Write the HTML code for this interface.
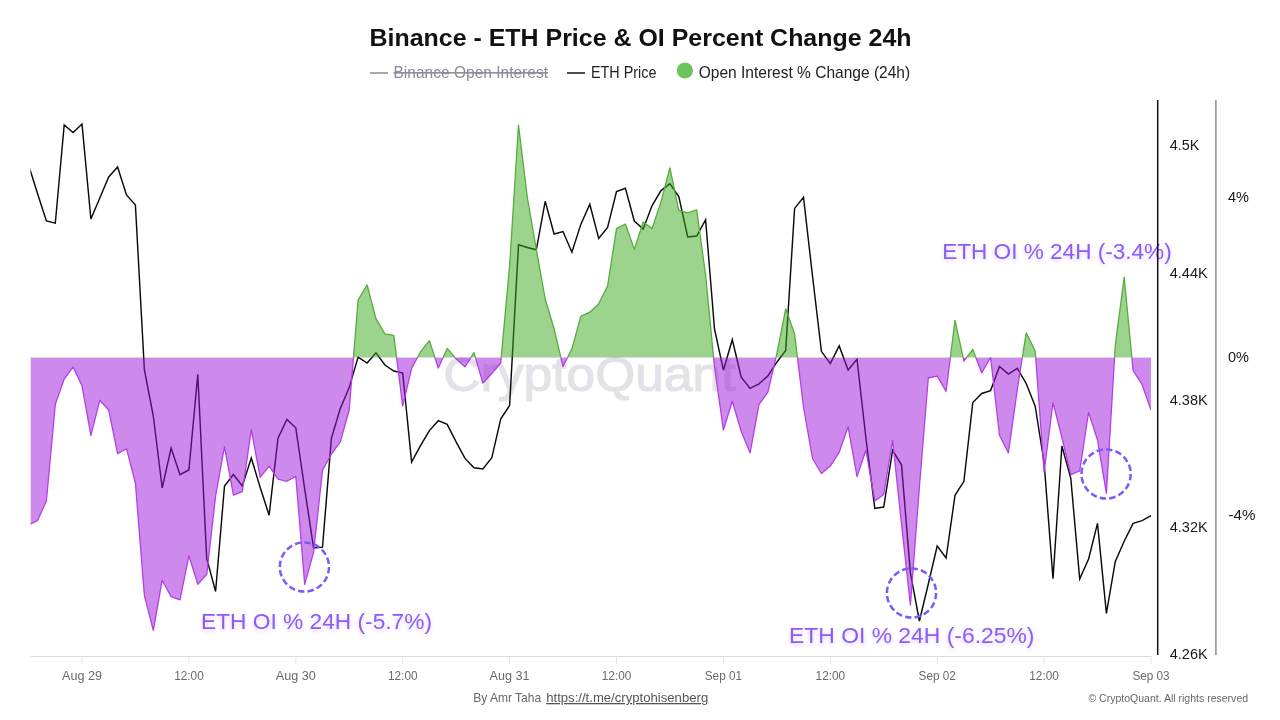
<!DOCTYPE html>
<html><head><meta charset="utf-8"><title>Binance - ETH Price &amp; OI Percent Change 24h</title>
<style>
html,body{margin:0;padding:0;background:#fff;}
body{width:1280px;height:720px;overflow:hidden;font-family:"Liberation Sans",sans-serif;}
svg{display:block;}
text{font-family:"Liberation Sans",sans-serif;}
.title{font-size:24px;font-weight:bold;fill:#111;}
.lg{font-size:15.7px;fill:#222;}
.lgoff{font-size:15.7px;fill:#8b8b98;text-decoration:line-through;}
.xl{font-size:12.6px;fill:#6a6a6a;}
.yl{font-size:15.2px;fill:#1a1a1a;}
.ann{font-size:21.8px;fill:#8b5cf6;}
.ft{font-size:13px;fill:#666;}
.cr{font-size:10.6px;fill:#666;}
.wm{font-size:49px;fill:#e2e2e8;stroke:#e2e2e8;stroke-width:1.2px;}
</style></head>
<body>
<svg width="1280" height="720" viewBox="0 0 1280 720">
<defs>
<clipPath id="cpos"><rect x="30.7" y="90" width="1120.3" height="267.5"/></clipPath>
<clipPath id="cneg"><rect x="30.7" y="357.5" width="1120.3" height="300"/></clipPath>
<clipPath id="call"><rect x="30.5" y="90" width="1121" height="570"/></clipPath>
<filter id="glow" x="-10%" y="-40%" width="120%" height="180%"><feGaussianBlur in="SourceGraphic" stdDeviation="2.2"/></filter>
</defs>
<rect width="1280" height="720" fill="#fff"/>
<text x="369.5" y="45.5" class="title" textLength="542" lengthAdjust="spacingAndGlyphs">Binance - ETH Price &amp; OI Percent Change 24h</text>
<!-- legend -->
<line x1="370" y1="73" x2="388" y2="73" stroke="#8b8b98" stroke-width="1.5"/>
<text x="393.5" y="77.5" class="lgoff" textLength="154.5" lengthAdjust="spacingAndGlyphs">Binance Open Interest</text>
<line x1="567" y1="73" x2="585" y2="73" stroke="#111" stroke-width="1.5"/>
<text x="591" y="77.5" class="lg" textLength="65.5" lengthAdjust="spacingAndGlyphs">ETH Price</text>
<circle cx="684.9" cy="70.5" r="8.1" fill="#6cc55c"/>
<text x="698.7" y="77.5" class="lg" textLength="211.5" lengthAdjust="spacingAndGlyphs">Open Interest % Change (24h)</text>
<!-- watermark -->
<text x="589.5" y="390.5" text-anchor="middle" class="wm" textLength="292" lengthAdjust="spacingAndGlyphs">CryptoQuant</text>
<!-- price -->
<g clip-path="url(#call)">
<polyline points="28.6,165.0 37.5,193.5 46.4,221.0 55.3,223.2 64.2,125.0 73.1,132.5 82.0,124.0 90.9,219.0 99.8,198.0 108.7,177.0 117.6,167.0 126.5,195.0 135.4,205.0 144.4,370.0 153.3,416.0 162.2,488.0 171.1,448.0 180.0,474.7 188.9,470.0 197.8,374.4 206.7,558.5 215.6,591.5 224.5,486.0 233.4,474.5 242.3,486.0 251.3,458.0 260.2,487.5 269.1,515.2 278.0,438.1 286.9,419.4 295.8,427.8 304.7,489.0 313.6,548.0 322.5,547.2 331.4,438.1 340.3,408.5 349.2,387.5 358.1,357.1 367.1,363.0 376.0,352.8 384.9,365.0 393.8,371.0 402.7,373.0 411.6,462.0 420.5,445.6 429.4,430.6 438.3,420.7 447.2,424.4 456.1,441.9 465.0,458.4 474.0,467.8 482.9,469.0 491.8,457.8 500.7,419.0 509.6,405.5 518.5,244.7 527.4,247.5 536.3,249.8 545.2,201.3 554.1,234.0 563.0,231.5 571.9,252.2 580.8,224.4 589.8,204.3 598.7,238.4 607.6,227.5 616.5,191.6 625.4,188.2 634.3,221.0 643.2,229.0 652.1,205.6 661.0,190.6 669.9,183.7 678.8,196.6 687.7,237.0 696.7,236.0 705.6,219.7 714.5,329.0 723.4,370.2 732.3,339.7 741.2,377.2 750.1,388.4 759.0,383.8 767.9,375.9 776.8,362.2 785.7,350.4 794.6,208.4 803.5,197.2 812.5,276.0 821.4,351.3 830.3,363.6 839.2,345.9 848.1,370.0 857.0,359.2 865.9,438.0 874.8,508.4 883.7,507.0 892.6,450.3 901.5,464.8 910.4,573.0 919.4,621.0 928.3,584.0 937.2,546.0 946.1,558.0 955.0,495.3 963.9,481.3 972.8,402.5 981.7,393.5 990.6,390.6 999.5,366.4 1008.4,374.0 1017.3,368.3 1026.2,383.5 1035.2,406.2 1044.1,462.5 1053.0,578.8 1061.9,446.0 1070.8,478.4 1079.7,578.8 1088.6,559.0 1097.5,523.4 1106.4,613.4 1115.3,561.5 1124.2,541.2 1133.1,523.4 1142.1,520.6 1151.0,515.6" fill="none" stroke="#0b0b0b" stroke-width="1.45" stroke-linejoin="miter"/>
</g>
<!-- area -->
<g clip-path="url(#cpos)">
<polygon points="28.6,357.5 28.6,525.0 37.5,520.6 46.4,501.0 55.3,404.4 64.2,379.0 73.1,366.9 82.0,385.6 90.9,435.3 99.8,400.2 108.7,410.0 117.6,453.7 126.5,448.7 135.4,483.0 144.4,595.6 153.3,630.3 162.2,580.2 171.1,596.6 180.0,599.8 188.9,555.7 197.8,584.4 206.7,574.5 215.6,496.0 224.5,446.6 233.4,495.2 242.3,491.6 251.3,429.7 260.2,477.3 269.1,466.1 278.0,479.2 286.9,481.3 295.8,476.4 304.7,584.4 313.6,552.4 322.5,470.3 331.4,454.0 340.3,441.9 349.2,410.0 358.1,300.0 367.1,285.0 376.0,318.8 384.9,333.8 393.8,335.3 402.7,406.2 411.6,368.4 420.5,351.9 429.4,340.6 438.3,368.0 447.2,348.5 456.1,358.8 465.0,366.8 474.0,352.6 482.9,383.0 491.8,373.5 500.7,363.0 509.6,266.0 518.5,125.0 527.4,198.0 536.3,249.4 545.2,299.0 554.1,329.0 563.0,366.5 571.9,348.8 580.8,316.3 589.8,312.2 598.7,303.8 607.6,286.0 616.5,228.6 625.4,224.0 634.3,249.4 643.2,222.0 652.1,228.5 661.0,201.9 669.9,167.8 678.8,210.3 687.7,212.8 696.7,209.8 705.6,275.0 714.5,367.0 723.4,430.0 732.3,401.2 741.2,431.2 750.1,453.0 759.0,404.4 767.9,392.2 776.8,353.8 785.7,308.8 794.6,334.0 803.5,407.0 812.5,458.5 821.4,473.5 830.3,466.1 839.2,452.3 848.1,426.9 857.0,476.5 865.9,450.3 874.8,501.0 883.7,494.4 892.6,440.5 901.5,524.0 910.4,605.0 919.4,487.0 928.3,378.0 937.2,376.2 946.1,391.3 955.0,320.4 963.9,361.0 972.8,349.5 981.7,372.9 990.6,357.5 999.5,435.3 1008.4,453.0 1017.3,389.4 1026.2,332.8 1035.2,351.0 1044.1,471.9 1053.0,402.5 1061.9,437.5 1070.8,474.7 1079.7,471.0 1088.6,412.2 1097.5,440.0 1106.4,493.4 1115.3,345.0 1124.2,277.2 1133.1,370.6 1142.1,384.7 1151.0,410.0 1151.0,357.5" fill="#39a71b" fill-opacity="0.5"/>
<polyline points="28.6,525.0 37.5,520.6 46.4,501.0 55.3,404.4 64.2,379.0 73.1,366.9 82.0,385.6 90.9,435.3 99.8,400.2 108.7,410.0 117.6,453.7 126.5,448.7 135.4,483.0 144.4,595.6 153.3,630.3 162.2,580.2 171.1,596.6 180.0,599.8 188.9,555.7 197.8,584.4 206.7,574.5 215.6,496.0 224.5,446.6 233.4,495.2 242.3,491.6 251.3,429.7 260.2,477.3 269.1,466.1 278.0,479.2 286.9,481.3 295.8,476.4 304.7,584.4 313.6,552.4 322.5,470.3 331.4,454.0 340.3,441.9 349.2,410.0 358.1,300.0 367.1,285.0 376.0,318.8 384.9,333.8 393.8,335.3 402.7,406.2 411.6,368.4 420.5,351.9 429.4,340.6 438.3,368.0 447.2,348.5 456.1,358.8 465.0,366.8 474.0,352.6 482.9,383.0 491.8,373.5 500.7,363.0 509.6,266.0 518.5,125.0 527.4,198.0 536.3,249.4 545.2,299.0 554.1,329.0 563.0,366.5 571.9,348.8 580.8,316.3 589.8,312.2 598.7,303.8 607.6,286.0 616.5,228.6 625.4,224.0 634.3,249.4 643.2,222.0 652.1,228.5 661.0,201.9 669.9,167.8 678.8,210.3 687.7,212.8 696.7,209.8 705.6,275.0 714.5,367.0 723.4,430.0 732.3,401.2 741.2,431.2 750.1,453.0 759.0,404.4 767.9,392.2 776.8,353.8 785.7,308.8 794.6,334.0 803.5,407.0 812.5,458.5 821.4,473.5 830.3,466.1 839.2,452.3 848.1,426.9 857.0,476.5 865.9,450.3 874.8,501.0 883.7,494.4 892.6,440.5 901.5,524.0 910.4,605.0 919.4,487.0 928.3,378.0 937.2,376.2 946.1,391.3 955.0,320.4 963.9,361.0 972.8,349.5 981.7,372.9 990.6,357.5 999.5,435.3 1008.4,453.0 1017.3,389.4 1026.2,332.8 1035.2,351.0 1044.1,471.9 1053.0,402.5 1061.9,437.5 1070.8,474.7 1079.7,471.0 1088.6,412.2 1097.5,440.0 1106.4,493.4 1115.3,345.0 1124.2,277.2 1133.1,370.6 1142.1,384.7 1151.0,410.0" fill="none" stroke="#55ad3e" stroke-width="1.3" stroke-linejoin="round"/>
</g>
<g clip-path="url(#cneg)">
<polygon points="28.6,357.5 28.6,525.0 37.5,520.6 46.4,501.0 55.3,404.4 64.2,379.0 73.1,366.9 82.0,385.6 90.9,435.3 99.8,400.2 108.7,410.0 117.6,453.7 126.5,448.7 135.4,483.0 144.4,595.6 153.3,630.3 162.2,580.2 171.1,596.6 180.0,599.8 188.9,555.7 197.8,584.4 206.7,574.5 215.6,496.0 224.5,446.6 233.4,495.2 242.3,491.6 251.3,429.7 260.2,477.3 269.1,466.1 278.0,479.2 286.9,481.3 295.8,476.4 304.7,584.4 313.6,552.4 322.5,470.3 331.4,454.0 340.3,441.9 349.2,410.0 358.1,300.0 367.1,285.0 376.0,318.8 384.9,333.8 393.8,335.3 402.7,406.2 411.6,368.4 420.5,351.9 429.4,340.6 438.3,368.0 447.2,348.5 456.1,358.8 465.0,366.8 474.0,352.6 482.9,383.0 491.8,373.5 500.7,363.0 509.6,266.0 518.5,125.0 527.4,198.0 536.3,249.4 545.2,299.0 554.1,329.0 563.0,366.5 571.9,348.8 580.8,316.3 589.8,312.2 598.7,303.8 607.6,286.0 616.5,228.6 625.4,224.0 634.3,249.4 643.2,222.0 652.1,228.5 661.0,201.9 669.9,167.8 678.8,210.3 687.7,212.8 696.7,209.8 705.6,275.0 714.5,367.0 723.4,430.0 732.3,401.2 741.2,431.2 750.1,453.0 759.0,404.4 767.9,392.2 776.8,353.8 785.7,308.8 794.6,334.0 803.5,407.0 812.5,458.5 821.4,473.5 830.3,466.1 839.2,452.3 848.1,426.9 857.0,476.5 865.9,450.3 874.8,501.0 883.7,494.4 892.6,440.5 901.5,524.0 910.4,605.0 919.4,487.0 928.3,378.0 937.2,376.2 946.1,391.3 955.0,320.4 963.9,361.0 972.8,349.5 981.7,372.9 990.6,357.5 999.5,435.3 1008.4,453.0 1017.3,389.4 1026.2,332.8 1035.2,351.0 1044.1,471.9 1053.0,402.5 1061.9,437.5 1070.8,474.7 1079.7,471.0 1088.6,412.2 1097.5,440.0 1106.4,493.4 1115.3,345.0 1124.2,277.2 1133.1,370.6 1142.1,384.7 1151.0,410.0 1151.0,357.5" fill="#9d13db" fill-opacity="0.5"/>
<polyline points="28.6,525.0 37.5,520.6 46.4,501.0 55.3,404.4 64.2,379.0 73.1,366.9 82.0,385.6 90.9,435.3 99.8,400.2 108.7,410.0 117.6,453.7 126.5,448.7 135.4,483.0 144.4,595.6 153.3,630.3 162.2,580.2 171.1,596.6 180.0,599.8 188.9,555.7 197.8,584.4 206.7,574.5 215.6,496.0 224.5,446.6 233.4,495.2 242.3,491.6 251.3,429.7 260.2,477.3 269.1,466.1 278.0,479.2 286.9,481.3 295.8,476.4 304.7,584.4 313.6,552.4 322.5,470.3 331.4,454.0 340.3,441.9 349.2,410.0 358.1,300.0 367.1,285.0 376.0,318.8 384.9,333.8 393.8,335.3 402.7,406.2 411.6,368.4 420.5,351.9 429.4,340.6 438.3,368.0 447.2,348.5 456.1,358.8 465.0,366.8 474.0,352.6 482.9,383.0 491.8,373.5 500.7,363.0 509.6,266.0 518.5,125.0 527.4,198.0 536.3,249.4 545.2,299.0 554.1,329.0 563.0,366.5 571.9,348.8 580.8,316.3 589.8,312.2 598.7,303.8 607.6,286.0 616.5,228.6 625.4,224.0 634.3,249.4 643.2,222.0 652.1,228.5 661.0,201.9 669.9,167.8 678.8,210.3 687.7,212.8 696.7,209.8 705.6,275.0 714.5,367.0 723.4,430.0 732.3,401.2 741.2,431.2 750.1,453.0 759.0,404.4 767.9,392.2 776.8,353.8 785.7,308.8 794.6,334.0 803.5,407.0 812.5,458.5 821.4,473.5 830.3,466.1 839.2,452.3 848.1,426.9 857.0,476.5 865.9,450.3 874.8,501.0 883.7,494.4 892.6,440.5 901.5,524.0 910.4,605.0 919.4,487.0 928.3,378.0 937.2,376.2 946.1,391.3 955.0,320.4 963.9,361.0 972.8,349.5 981.7,372.9 990.6,357.5 999.5,435.3 1008.4,453.0 1017.3,389.4 1026.2,332.8 1035.2,351.0 1044.1,471.9 1053.0,402.5 1061.9,437.5 1070.8,474.7 1079.7,471.0 1088.6,412.2 1097.5,440.0 1106.4,493.4 1115.3,345.0 1124.2,277.2 1133.1,370.6 1142.1,384.7 1151.0,410.0" fill="none" stroke="#b440e4" stroke-width="1.3" stroke-linejoin="round"/>
</g>
<!-- annotations -->
<g>
<circle cx="304.4" cy="567" r="24.6" fill="none" stroke="#7a5af8" stroke-width="2.5" stroke-dasharray="6.4 3.2"/>
<circle cx="911.5" cy="593" r="24.6" fill="none" stroke="#7a5af8" stroke-width="2.5" stroke-dasharray="6.4 3.2"/>
<circle cx="1106.1" cy="474" r="24.6" fill="none" stroke="#7a5af8" stroke-width="2.5" stroke-dasharray="6.4 3.2"/>
</g>
<g opacity="0.28" filter="url(#glow)">
<text x="201" y="630.8" class="ann" textLength="231" lengthAdjust="spacingAndGlyphs">ETH OI % 24H (-5.7%)</text>
<text x="789" y="644.5" class="ann" textLength="245.5" lengthAdjust="spacingAndGlyphs">ETH OI % 24H (-6.25%)</text>
<text x="942.2" y="261" class="ann" textLength="229.5" lengthAdjust="spacingAndGlyphs">ETH OI % 24H (-3.4%)</text>
</g>
<text x="201" y="629" class="ann" textLength="231" lengthAdjust="spacingAndGlyphs">ETH OI % 24H (-5.7%)</text>
<text x="789" y="642.8" class="ann" textLength="245.5" lengthAdjust="spacingAndGlyphs">ETH OI % 24H (-6.25%)</text>
<text x="942.2" y="259.3" class="ann" textLength="229.5" lengthAdjust="spacingAndGlyphs">ETH OI % 24H (-3.4%)</text>
<!-- axes -->
<line x1="30.5" y1="656.5" x2="1152" y2="656.5" stroke="#dcdcdc" stroke-width="1.2"/>
<line x1="82.0" y1="656.5" x2="82.0" y2="664" stroke="#e4e4e4" stroke-width="1"/><line x1="188.9" y1="656.5" x2="188.9" y2="664" stroke="#e4e4e4" stroke-width="1"/><line x1="295.8" y1="656.5" x2="295.8" y2="664" stroke="#e4e4e4" stroke-width="1"/><line x1="402.7" y1="656.5" x2="402.7" y2="664" stroke="#e4e4e4" stroke-width="1"/><line x1="509.6" y1="656.5" x2="509.6" y2="664" stroke="#e4e4e4" stroke-width="1"/><line x1="616.5" y1="656.5" x2="616.5" y2="664" stroke="#e4e4e4" stroke-width="1"/><line x1="723.4" y1="656.5" x2="723.4" y2="664" stroke="#e4e4e4" stroke-width="1"/><line x1="830.3" y1="656.5" x2="830.3" y2="664" stroke="#e4e4e4" stroke-width="1"/><line x1="937.2" y1="656.5" x2="937.2" y2="664" stroke="#e4e4e4" stroke-width="1"/><line x1="1044.1" y1="656.5" x2="1044.1" y2="664" stroke="#e4e4e4" stroke-width="1"/><line x1="1151.0" y1="656.5" x2="1151.0" y2="664" stroke="#e4e4e4" stroke-width="1"/>
<text x="62.0" y="680" class="xl" textLength="40" lengthAdjust="spacingAndGlyphs">Aug 29</text><text x="174.2" y="680" class="xl" textLength="29.5" lengthAdjust="spacingAndGlyphs">12:00</text><text x="275.8" y="680" class="xl" textLength="40" lengthAdjust="spacingAndGlyphs">Aug 30</text><text x="388.0" y="680" class="xl" textLength="29.5" lengthAdjust="spacingAndGlyphs">12:00</text><text x="489.6" y="680" class="xl" textLength="40" lengthAdjust="spacingAndGlyphs">Aug 31</text><text x="601.8" y="680" class="xl" textLength="29.5" lengthAdjust="spacingAndGlyphs">12:00</text><text x="704.8" y="680" class="xl" textLength="37.2" lengthAdjust="spacingAndGlyphs">Sep 01</text><text x="815.6" y="680" class="xl" textLength="29.5" lengthAdjust="spacingAndGlyphs">12:00</text><text x="918.6" y="680" class="xl" textLength="37.2" lengthAdjust="spacingAndGlyphs">Sep 02</text><text x="1029.3" y="680" class="xl" textLength="29.5" lengthAdjust="spacingAndGlyphs">12:00</text><text x="1132.4" y="680" class="xl" textLength="37.2" lengthAdjust="spacingAndGlyphs">Sep 03</text>
<line x1="1157.7" y1="100" x2="1157.7" y2="655" stroke="#111" stroke-width="1.5"/>
<line x1="1215.9" y1="100" x2="1215.9" y2="655" stroke="#97979f" stroke-width="1.7"/>
<text x="1169.7" y="149.7" class="yl" textLength="29.7" lengthAdjust="spacingAndGlyphs">4.5K</text>
<text x="1169.7" y="277.5" class="yl" textLength="38" lengthAdjust="spacingAndGlyphs">4.44K</text>
<text x="1169.7" y="404.5" class="yl" textLength="38" lengthAdjust="spacingAndGlyphs">4.38K</text>
<text x="1169.7" y="532" class="yl" textLength="38" lengthAdjust="spacingAndGlyphs">4.32K</text>
<text x="1169.7" y="659.3" class="yl" textLength="38" lengthAdjust="spacingAndGlyphs">4.26K</text>
<text x="1228" y="202.3" class="yl" textLength="21" lengthAdjust="spacingAndGlyphs">4%</text>
<text x="1228" y="361.7" class="yl" textLength="21" lengthAdjust="spacingAndGlyphs">0%</text>
<text x="1228.5" y="519.8" class="yl" textLength="27" lengthAdjust="spacingAndGlyphs">-4%</text>
<!-- footer -->
<text x="473.2" y="702" class="ft" textLength="68" lengthAdjust="spacingAndGlyphs">By Amr Taha</text>
<text x="546.2" y="702" class="ft" fill="#555" text-decoration="underline" textLength="162" lengthAdjust="spacingAndGlyphs" style="fill:#555">https://t.me/cryptohisenberg</text>
<text x="1088.4" y="702" class="cr" textLength="159.7" lengthAdjust="spacingAndGlyphs">© CryptoQuant. All rights reserved</text>
</svg>
</body></html>
